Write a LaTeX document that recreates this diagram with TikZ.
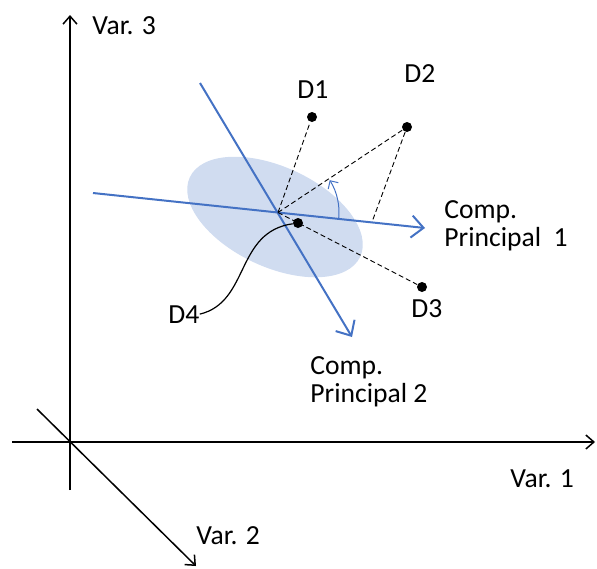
\documentclass[tikz,border=0pt]{standalone}
\usepackage{fontspec}
\setmainfont{Carlito}
\usepackage{tikz}
\usetikzlibrary{arrows.meta}
\definecolor{pcblue}{HTML}{4472C4}

\begin{document}
\begin{tikzpicture}[
    x=0.5pt,y=-0.5pt,
    axis/.style={-{Straight Barb[length=4pt,width=7pt]},line width=0.75pt,black},
    comp/.style={-{Straight Barb[length=6pt,width=11pt]},line width=1pt,pcblue},
    proj/.style={dashed,dash pattern=on 2.5pt off 1.5pt,line width=0.45pt},
    angarc/.style={-{Straight Barb[length=3pt,width=6pt]},line width=0.5pt,pcblue},
    blob/.style={fill=pcblue!25},
    pt/.style={circle,fill=black,inner sep=0pt,minimum size=5pt},
    lbl/.style={font=\fontsize{13.8pt}{14pt}\selectfont,inner sep=0pt,align=left}
  ]
    \useasboundingbox (0,0) rectangle (597,568);

    % scatter of the data
    \fill[blob,rotate around={-25:(275,217)}] (275,217) ellipse [x radius=94,y radius=50];

    % original variables
    \coordinate (v3a) at (70,490);  \coordinate (v3b) at (70,15);
    \coordinate (v1a) at (12,442);  \coordinate (v1b) at (595,442);
    \coordinate (v2a) at (37,409);  \coordinate (v2b) at (196,566);
    \draw[axis] (v3a) -- (v3b);
    \draw[axis] (v1a) -- (v1b);
    \draw[axis] (v2a) -- (v2b);
    \node[lbl,anchor=base west] (var3) at (92,34) {Var. 3};
    \node[lbl,anchor=base west] (var1) at (510,487) {Var. 1};
    \node[lbl,anchor=base west] (var2) at (196,544) {Var. 2};

    % principal components
    \coordinate (o) at (278,212.5);
    \coordinate (c1a) at (93,193);  \coordinate (c1b) at (425,228);
    \coordinate (c2a) at (200,83);  \coordinate (c2b) at (352,337);
    \draw[comp] (c1a) -- (c1b);
    \draw[comp] (c2a) -- (c2b);
    \node[lbl,anchor=base west] (pc1) at (444,246) {Comp.\\Principal\ \ 1};
    \node[lbl,anchor=base west] (pc2) at (310,402) {Comp.\\Principal 2};

    % data points
    \node[pt] (d1) at (312,117) {};
    \node[pt] (d2) at (407,127) {};
    \node[pt] (d3) at (422,287) {};
    \node[pt] (d4) at (298,223) {};
    \node[lbl,anchor=base west] (l1) at (297,98) {D1};
    \node[lbl,anchor=base west] (l2) at (404,82) {D2};
    \node[lbl,anchor=base west] (l3) at (411,317) {D3};
    \node[lbl,anchor=base west] (l4) at (168,323) {D4};

    % projections
    \coordinate (f2) at (372,222);
    \draw[proj] (o) -- (d1);
    \draw[proj] (o) -- (d2);
    \draw[proj] (o) -- (d3);
    \draw[proj] (d2) -- (f2);
    \draw[angarc] (o) ++(6:61) arc[start angle=6,end angle=-32,radius=61];
    \draw[line width=0.6pt] (l4.east) .. controls (250,302) and (235,232) .. (d4);
\end{tikzpicture}
\end{document}
